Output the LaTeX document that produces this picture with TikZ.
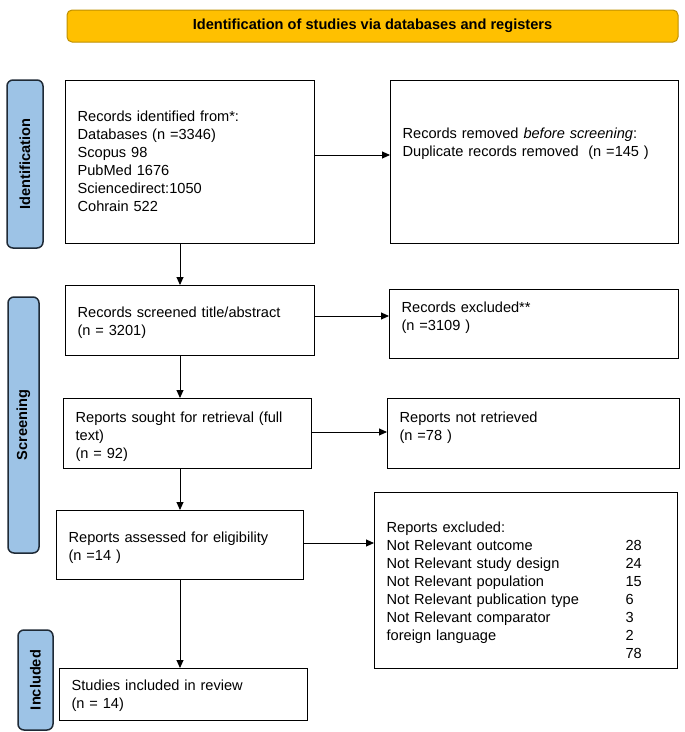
\documentclass[tikz,border=0pt]{standalone}
\usepackage{fontspec}
\setmainfont{Liberation Sans}
\usepackage{xcolor}
\definecolor{bannerfill}{HTML}{FFC000}
\definecolor{bannerline}{HTML}{BF9000}
\definecolor{phasefill}{HTML}{9DC3E6}
\definecolor{phaseline}{HTML}{1F2A36}
\usepackage{tikz}
\usetikzlibrary{arrows.meta}

\begin{document}
\begin{tikzpicture}[x=1pt,y=-1pt,>={Triangle[length=8pt,width=7pt]},
    box/.style={draw,line width=1.2pt,anchor=north west,inner xsep=12pt,inner ysep=0pt,
      align=left,font=\fontsize{14.6}{18}\selectfont},
    wd/.style={text width=#1pt},
    vfit/.style 2 args={text height=#1pt,text depth=#2pt},
    phasebox/.style={draw=phaseline,fill=phasefill,line width=1.5pt,rounded corners=6pt,
      rotate=90,font=\bfseries\fontsize{14.6}{18}\selectfont},
    arr/.style={->,line width=0.9pt}]
    \useasboundingbox (0,0) rectangle (685,732);
    % banner
    \node[draw=bannerline,fill=bannerfill,line width=1pt,rounded corners=5pt,
      minimum width=611pt,minimum height=32pt,font=\bfseries\fontsize{14.6}{18}\selectfont]
      (banner) at (372.5,26) {Identification of studies via databases and registers};
    % phases
    \node[phasebox,minimum width=168pt,minimum height=36pt] (identlab) at (25,164) {Identification};
    \node[phasebox,minimum width=256pt,minimum height=31pt] (screenlab) at (23.5,425) {Screening};
    \node[phasebox,minimum width=100pt,minimum height=35pt] (incllab) at (35.5,680) {Included};
    % left column
    \node[box,wd=225,vfit={41}{122}] (ident) at (65,80)
      {Records identified from*:\\Databases (n =3346)\\Scopus 98\\PubMed 1676\\Sciencedirect:1050\\Cohrain 522};
    \node[box,wd=225,vfit={32}{38}] (screened) at (65,285)
      {Records screened title/abstract\\(n = 3201)};
    \node[box,wd=224,vfit={24}{46}] (sought) at (63,398)
      {Reports sought for retrieval (full\\text)\\(n = 92)};
    \node[box,wd=223,vfit={32}{37}] (assessed) at (56,510)
      {Reports assessed for eligibility\\(n =14 )};
    \node[box,wd=224,vfit={22}{30}] (included) at (59,668)
      {Studies included in review\\(n = 14)};
    % right column
    \node[box,wd=264,vfit={58}{105}] (removed) at (390,80)
      {Records removed \textit{before screening}:\\Duplicate records removed\ \ (n =145 )};
    \node[box,wd=265,vfit={23}{46}] (excluded) at (389,289)
      {Records excluded**\\(n =3109 )};
    \node[box,wd=268,vfit={24}{46}] (notretr) at (387,398)
      {Reports not retrieved\\(n =78 )};
    \node[box,wd=279,vfit={40}{136}] (repexcl) at (374,492)
      {Reports excluded:\\
       \makebox[239pt][l]{Not Relevant outcome}28\\
       \makebox[239pt][l]{Not Relevant study design}24\\
       \makebox[239pt][l]{Not Relevant population}15\\
       \makebox[239pt][l]{Not Relevant publication type}6\\
       \makebox[239pt][l]{Not Relevant comparator}3\\
       \makebox[239pt][l]{foreign language}2\\
       \makebox[239pt][l]{}78};
    % connectors
    \coordinate (col) at (180,0);
    \draw[arr] (ident.south -| col) -- (screened.north -| col);
    \draw[arr] (screened.south -| col) -- (sought.north -| col);
    \draw[arr] (sought.south -| col) -- (assessed.north -| col);
    \draw[arr] (assessed.south -| col) -- (included.north -| col);
    \draw[arr] (ident.east |- 0,155) -- (removed.west |- 0,155);
    \draw[arr] (screened.east |- 0,316) -- (excluded.west |- 0,316);
    \draw[arr] (sought.east |- 0,432) -- (notretr.west |- 0,432);
    \draw[arr] (assessed.east |- 0,543) -- (repexcl.west |- 0,543);
\end{tikzpicture}
\end{document}
